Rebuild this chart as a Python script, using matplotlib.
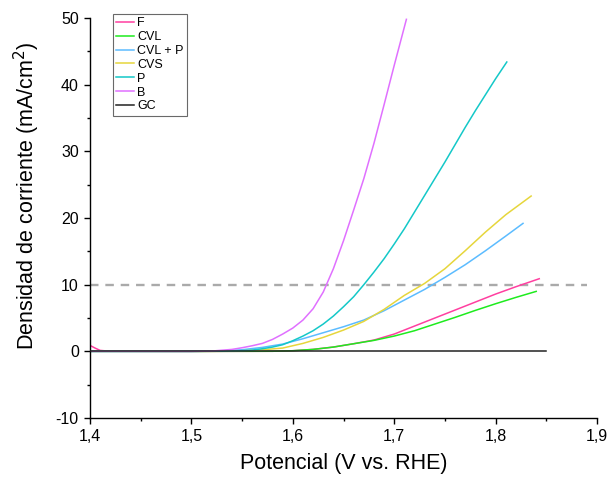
import matplotlib
matplotlib.use("Agg")
import matplotlib.pyplot as plt
from matplotlib.ticker import MultipleLocator, FuncFormatter

plt.rcParams['font.family'] = ['Liberation Sans', 'DejaVu Sans']

# ---- data ----
F_x = [1.400, 1.405, 1.410, 1.420, 1.500, 1.580, 1.600, 1.620, 1.640, 1.660, 1.680, 1.700, 1.720, 1.740, 1.760, 1.780, 1.800, 1.820, 1.843]
F_y = [0.9, 0.5, 0.15, 0.02, 0.0, 0.02, 0.1, 0.3, 0.65, 1.15, 1.7, 2.6, 3.8, 5.0, 6.2, 7.4, 8.6, 9.7, 10.9]

CVL_x = [1.400, 1.500, 1.580, 1.600, 1.620, 1.640, 1.660, 1.680, 1.700, 1.720, 1.740, 1.760, 1.780, 1.800, 1.820, 1.840]
CVL_y = [0.0, 0.0, 0.02, 0.1, 0.3, 0.65, 1.15, 1.65, 2.3, 3.1, 4.1, 5.1, 6.15, 7.15, 8.1, 9.0]

CVLP_x = [1.400, 1.500, 1.530, 1.550, 1.570, 1.590, 1.610, 1.630, 1.650, 1.670, 1.690, 1.710, 1.730, 1.750, 1.770, 1.790, 1.810, 1.827]
CVLP_y = [0.0, 0.0, 0.05, 0.25, 0.6, 1.1, 1.9, 2.8, 3.7, 4.7, 6.1, 7.7, 9.3, 11.1, 13.0, 15.1, 17.3, 19.2]

CVS_x = [1.400, 1.500, 1.530, 1.550, 1.570, 1.590, 1.610, 1.630, 1.650, 1.670, 1.690, 1.710, 1.730, 1.750, 1.770, 1.790, 1.810, 1.835]
CVS_y = [0.0, 0.0, 0.02, 0.1, 0.25, 0.5, 1.2, 2.1, 3.2, 4.5, 6.3, 8.4, 10.2, 12.4, 15.1, 17.9, 20.5, 23.3]

P_x = [1.400, 1.500, 1.530, 1.550, 1.560, 1.570, 1.580, 1.590, 1.600, 1.610, 1.620, 1.630, 1.640, 1.650, 1.660, 1.670, 1.680, 1.690, 1.700, 1.710, 1.720, 1.730, 1.740, 1.750, 1.760, 1.770, 1.780, 1.790, 1.800, 1.811]
P_y = [0.0, 0.0, 0.03, 0.1, 0.2, 0.4, 0.65, 1.0, 1.6, 2.3, 3.1, 4.1, 5.3, 6.7, 8.2, 10.0, 11.9, 13.9, 16.1, 18.4, 20.9, 23.4, 25.9, 28.4, 31.0, 33.6, 36.1, 38.5, 40.9, 43.4]

B_x = [1.400, 1.500, 1.520, 1.540, 1.550, 1.560, 1.570, 1.580, 1.590, 1.600, 1.610, 1.620, 1.630, 1.640, 1.650, 1.660, 1.670, 1.680, 1.690, 1.700, 1.712]
B_y = [0.0, 0.0, 0.05, 0.3, 0.55, 0.85, 1.2, 1.8, 2.6, 3.5, 4.7, 6.4, 8.9, 12.4, 16.6, 21.2, 25.9, 31.2, 37.0, 42.9, 49.8]

GC_x = [1.40, 1.85]
GC_y = [0.0, 0.0]

ref_x = [1.40, 1.89]
ref_y = [10.0, 10.0]

x_ticks = [1.4, 1.5, 1.6, 1.7, 1.8, 1.9]
y_ticks = [-10, 0, 10, 20, 30, 40, 50]

series = [
    ("F", F_x, F_y, "#ff3fa0"),
    ("CVL", CVL_x, CVL_y, "#1eeb1e"),
    ("CVL + P", CVLP_x, CVLP_y, "#5cbcff"),
    ("CVS", CVS_x, CVS_y, "#e6d63c"),
    ("P", P_x, P_y, "#14c8c8"),
    ("B", B_x, B_y, "#e070ff"),
    ("GC", GC_x, GC_y, "#222222"),
]

fig = plt.figure(figsize=(6.08, 4.80), dpi=100)
ax = fig.add_axes([0.148, 0.129, 0.834, 0.8335])

ax.plot(ref_x, ref_y, color="#aaaaaa", lw=1.7, ls=(0, (3.6, 2.9)), zorder=1)
for name, xs, ys, c in series:
    ax.plot(xs, ys, color=c, lw=1.1, label=name, zorder=3 if name == "GC" else 2)

ax.set_xlim(1.4, 1.9)
ax.set_ylim(-10, 50)
ax.set_xticks(x_ticks)
ax.set_yticks(y_ticks)
ax.xaxis.set_minor_locator(MultipleLocator(0.05))
ax.yaxis.set_minor_locator(MultipleLocator(5))
ax.xaxis.set_major_formatter(FuncFormatter(lambda v, p: f"{v:.1f}".replace(".", ",")))
ax.yaxis.set_major_formatter(FuncFormatter(lambda v, p: f"{v:.0f}"))

for s in ["top", "right"]:
    ax.spines[s].set_visible(False)
for s in ["left", "bottom"]:
    ax.spines[s].set_linewidth(1.0)

ax.tick_params(which="major", direction="out", length=4.5, width=1.0, labelsize=11.5)
ax.tick_params(which="minor", direction="out", length=2.5, width=1.0)

ax.set_xlabel("Potencial (V vs. RHE)", fontsize=15.5, labelpad=6)
ax.set_ylabel("Densidad de corriente (mA/cm$^2$)", fontsize=15.5, labelpad=10, y=0.555)

leg = ax.legend(loc="upper left", bbox_to_anchor=(113 / 608, 1 - 14 / 480),
                bbox_transform=fig.transFigure, fontsize=9, frameon=True,
                fancybox=False, edgecolor="#444444", handlelength=1.4,
                handletextpad=0.3, labelspacing=0.15, borderpad=0.25,
                borderaxespad=0)
leg.get_frame().set_linewidth(0.8)

fig.savefig("out.png", dpi=100)
